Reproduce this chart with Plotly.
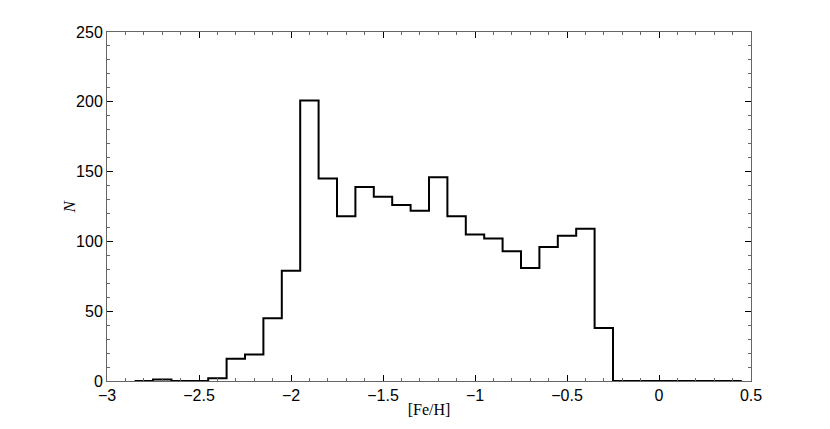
import plotly.graph_objects as go

# Bin centers ([Fe/H]) and counts N, bin width 0.1
bin_centers = [-2.8, -2.7, -2.6, -2.5, -2.4, -2.3, -2.2, -2.1, -2.0, -1.9,
               -1.8, -1.7, -1.6, -1.5, -1.4, -1.3, -1.2, -1.1, -1.0, -0.9,
               -0.8, -0.7, -0.6, -0.5, -0.4, -0.3, -0.2, -0.1, 0.0, 0.1,
               0.2, 0.3, 0.4]
counts = [0, 1, 0, 0, 2, 16, 19, 45, 79, 201,
          145, 118, 139, 132, 126, 122, 146, 118, 105, 102,
          93, 81, 96, 104, 109, 38, 0, 0, 0, 0,
          0, 0, 0]
bin_width = 0.1

x_ticks = [-3, -2.5, -2, -1.5, -1, -0.5, 0, 0.5]
x_tick_labels = ["\u22123", "\u22122.5", "\u22122", "\u22121.5", "\u22121", "\u22120.5", "0", "0.5"]
y_ticks = [0, 50, 100, 150, 200, 250]

# step outline built from the bins
xs = [c - bin_width / 2 for c in bin_centers] + [bin_centers[-1] + bin_width / 2]
ys = counts + [counts[-1]]

fig = go.Figure()
fig.add_trace(go.Scatter(x=xs, y=ys, mode="lines", line=dict(color="black", width=2, shape="hv"),
                         showlegend=False, hoverinfo="skip"))

axis_color = "#666666"
serif = "Liberation Serif, DejaVu Serif, serif"
fig.update_layout(
    width=830, height=429,
    margin=dict(l=99, r=87, t=24, b=56),
    plot_bgcolor="white", paper_bgcolor="white",
    font=dict(family="Liberation Sans, Arial, sans-serif", size=16, color="black"),
    xaxis=dict(
        range=[-3, 0.5], tickvals=x_ticks, ticktext=x_tick_labels,
        ticks="inside", ticklen=6, tickcolor="black", tickwidth=1,
        showline=True, linecolor=axis_color, linewidth=1, mirror="ticks",
        showgrid=False, zeroline=False,
        minor=dict(dtick=0.1, tick0=-3, ticks="inside", ticklen=3, tickcolor=axis_color, showgrid=False),
        title=dict(text="[Fe/H]", font=dict(family=serif, size=16), standoff=0),
    ),
    yaxis=dict(
        range=[0, 250], tickvals=y_ticks,
        ticks="inside", ticklen=6, tickcolor="black", tickwidth=1,
        showline=True, linecolor=axis_color, linewidth=1, mirror="ticks",
        showgrid=False, zeroline=False,
        minor=dict(dtick=10, tick0=0, ticks="inside", ticklen=3, tickcolor=axis_color, showgrid=False),
    ),
    annotations=[dict(text="<i>N</i>", xref="paper", yref="paper", x=-0.059, y=0.5,
                      xanchor="center", yanchor="middle", textangle=-90, showarrow=False,
                      font=dict(family=serif, size=17, color="black"))],
)

fig.write_html("out.html")
